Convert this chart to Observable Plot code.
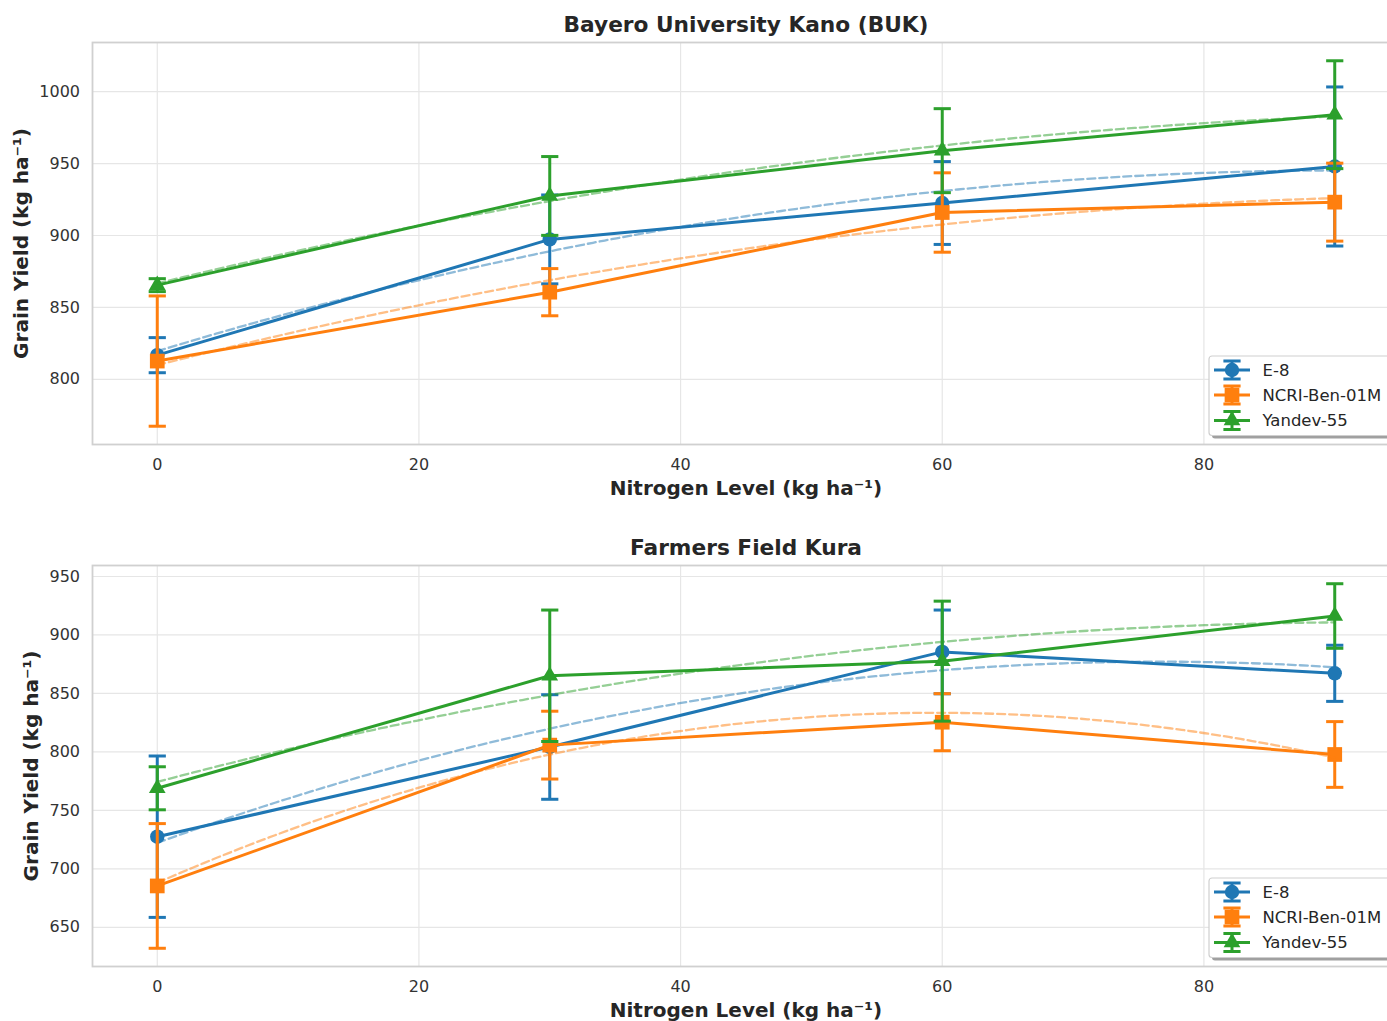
<!DOCTYPE html>
<html><head><meta charset="utf-8">
<script src="https://cdn.jsdelivr.net/npm/d3@7"></script>
<script src="https://cdn.jsdelivr.net/npm/@observablehq/plot@0.6"></script>
<style>
html,body{margin:0;padding:0;background:#fff;overflow:hidden}
#wrap{position:relative;width:1387px;height:1021px;overflow:hidden;font-family:"DejaVu Sans",sans-serif;background:#fff}
.panel{position:absolute;left:0;width:1400px}
.panel svg{max-width:none !important}
.legend{position:absolute}
</style></head><body><div id="wrap"></div>
<script>
// ---------- data ----------
const nitrogen = [0, 30, 60, 90];
const varieties = ["E-8", "NCRI-Ben-01M", "Yandev-55"];
const colors = ["#1f77b4", "#ff7f0e", "#2ca02c"];
const symbols = ["circle", "square", "triangle"];
const xTicks = [0, 20, 40, 60, 80];

const titleBUK = "Bayero University Kano (BUK)";
const bukE8 = [816.8, 897.3, 922.6, 948.0];
const bukE8Err = [12.2, 30.9, 28.8, 55.3];
const bukNCRI = [812.7, 860.6, 916.0, 923.2];
const bukNCRIErr = [45.3, 16.4, 27.6, 27.1];
const bukYandev = [865.5, 927.5, 959.0, 984.0];
const bukYandevErr = [4.5, 27.4, 29.2, 37.5];
const bukYTicks = [800, 850, 900, 950, 1000];

const titleKura = "Farmers Field Kura";
const kuraE8 = [727.5, 804.2, 885.5, 867.2];
const kuraE8Err = [69.0, 44.7, 35.8, 24.0];
const kuraNCRI = [685.4, 805.8, 825.4, 797.8];
const kuraNCRIErr = [53.3, 29.0, 24.4, 28.1];
const kuraYandev = [768.9, 865.1, 877.6, 916.2];
const kuraYandevErr = [18.4, 56.2, 51.3, 27.6];
const kuraYTicks = [650, 700, 750, 800, 850, 900, 950];

const xLabel = "Nitrogen Level (kg ha\u207B\u00B9)";
const yLabel = "Grain Yield (kg ha\u207B\u00B9)";
const xDomain = [-4.95, 94.95];

// ---------- helpers ----------
function polyfit2(xs, ys) {
  // least squares quadratic fit: y = a + b x + c x^2
  const S = (f) => d3.sum(xs.map((x, i) => f(x, ys[i])));
  const A = [
    [xs.length, S(x => x), S(x => x * x), S((x, y) => y)],
    [S(x => x), S(x => x * x), S(x => x ** 3), S((x, y) => x * y)],
    [S(x => x * x), S(x => x ** 3), S(x => x ** 4), S((x, y) => x * x * y)]
  ];
  for (let i = 0; i < 3; i++) {
    for (let k = i + 1; k < 3; k++) {
      const f = A[k][i] / A[i][i];
      for (let j = i; j < 4; j++) A[k][j] -= f * A[i][j];
    }
  }
  const c = [0, 0, 0];
  for (let i = 2; i >= 0; i--) {
    let s = A[i][3];
    for (let j = i + 1; j < 3; j++) s -= A[i][j] * c[j];
    c[i] = s / A[i][i];
  }
  return x => c[0] + c[1] * x + c[2] * x * x;
}

const markerR = {circle: 7.2, square: 8.3, triangle: 6.2};
const capHalf = 8.6;
const lw = 3;
const capSymbol = {draw(ctx) { ctx.moveTo(-capHalf, 0); ctx.lineTo(capHalf, 0); }};

function seriesMarks(means, errs, k) {
  const rows = nitrogen.map((n, i) => ({n, y: means[i], lo: means[i] - errs[i], hi: means[i] + errs[i]}));
  const f = polyfit2(nitrogen, means);
  const xs = d3.range(0, 90.0001, 0.9);
  const fit = xs.map(x => ({n: x, y: f(x)}));
  const color = colors[k];
  return [
    Plot.ruleX(rows, {x: "n", y1: "lo", y2: "hi", stroke: color, strokeWidth: lw}),
    Plot.dot(rows, {x: "n", y: "lo", symbol: capSymbol, stroke: color, strokeWidth: lw, fill: "none"}),
    Plot.dot(rows, {x: "n", y: "hi", symbol: capSymbol, stroke: color, strokeWidth: lw, fill: "none"}),
    Plot.line(rows, {x: "n", y: "y", stroke: color, strokeWidth: lw}),
    Plot.dot(rows, {x: "n", y: "y", symbol: symbols[k], r: markerR[symbols[k]], fill: color, stroke: "none"}),
    Plot.line(fit, {x: "n", y: "y", stroke: color, strokeWidth: 2.3, strokeOpacity: 0.5, strokeDasharray: "8,4"})
  ];
}

function makePanel({title, series, yTicks, top, height, marginTop, marginBottom, yLabelDx}) {
  const lows = series.flatMap(([m, e]) => m.map((v, i) => v - e[i]));
  const highs = series.flatMap(([m, e]) => m.map((v, i) => v + e[i]));
  const lo = d3.min(lows), hi = d3.max(highs), pad = (hi - lo) * 0.05;
  const chart = Plot.plot({
    width: 1400, height, marginLeft: 92, marginRight: 1, marginTop, marginBottom,
    x: {domain: xDomain},
    y: {domain: [lo - pad, hi + pad]},
    style: {fontFamily: "DejaVu Sans", fontSize: "16px", color: "#262626", background: "white", overflow: "visible", maxWidth: "none"},
    marks: [
      Plot.gridX(xTicks, {stroke: "#e6e6e6", strokeOpacity: 1, strokeWidth: 1.2}),
      Plot.gridY(yTicks, {stroke: "#e6e6e6", strokeOpacity: 1, strokeWidth: 1.2}),
      Plot.axisX(xTicks, {tickSize: 0, tickPadding: 14, tickFormat: d => String(d), label: null, fill: "#333", fontSize: 16}),
      Plot.axisY(yTicks, {tickSize: 0, tickPadding: 12.5, tickFormat: d => String(d), label: null, fill: "#333", fontSize: 16}),
      ...series.flatMap(([m, e], k) => seriesMarks(m, e, k)),
      Plot.frame({stroke: "#d0d0d0", strokeWidth: 1.8}),
      Plot.text([title], {text: d => d, frameAnchor: "top", dy: -17, textAnchor: "middle", lineAnchor: "middle", fontWeight: "bold", fontSize: 21.7, fill: "#262626"}),
      Plot.text([xLabel], {text: d => d, frameAnchor: "bottom", dy: 44, textAnchor: "middle", lineAnchor: "middle", fontWeight: "bold", fontSize: 20, fill: "#262626"}),
      Plot.text([yLabel], {text: d => d, frameAnchor: "left", dx: -yLabelDx, rotate: -90, textAnchor: "middle", lineAnchor: "middle", fontWeight: "bold", fontSize: 20, fill: "#262626"})
    ]
  });
  const div = document.createElement("div");
  div.className = "panel";
  div.style.top = top + "px";
  div.appendChild(chart);
  div.appendChild(makeLegend());
  document.getElementById("wrap").appendChild(div);
}

function makeLegend() {
  const ox = 1200, oy = 348;
  const svg = d3.create("svg").attr("class", "legend").attr("width", 200).attr("height", 100)
    .style("left", ox + "px").style("top", oy + "px");
  svg.append("rect").attr("x", 12).attr("y", 11).attr("width", 220).attr("height", 79.5).attr("rx", 3).attr("fill", "#a0a0a0");
  svg.append("rect").attr("x", 9).attr("y", 8).attr("width", 220).attr("height", 79.5).attr("rx", 3)
    .attr("fill", "#fff").attr("stroke", "#cfcfcf").attr("stroke-width", 1.2);
  const rowsY = [22, 47, 72.5];
  const symMap = {circle: d3.symbolCircle, square: d3.symbolSquare, triangle: d3.symbolTriangle};
  varieties.forEach((v, k) => {
    const g = svg.append("g").attr("transform", `translate(0,${rowsY[k]})`);
    const c = colors[k];
    g.append("line").attr("x1", 14).attr("x2", 50).attr("y1", 0).attr("y2", 0).attr("stroke", c).attr("stroke-width", lw);
    g.append("line").attr("x1", 32).attr("x2", 32).attr("y1", -9).attr("y2", 9).attr("stroke", c).attr("stroke-width", lw);
    g.append("line").attr("x1", 32 - capHalf).attr("x2", 32 + capHalf).attr("y1", -9).attr("y2", -9).attr("stroke", c).attr("stroke-width", lw);
    g.append("line").attr("x1", 32 - capHalf).attr("x2", 32 + capHalf).attr("y1", 9).attr("y2", 9).attr("stroke", c).attr("stroke-width", lw);
    const r = markerR[symbols[k]];
    g.append("path").attr("transform", "translate(32,0)").attr("d", d3.symbol(symMap[symbols[k]], r * r * Math.PI)()).attr("fill", c);
    g.append("text").attr("x", 62.5).attr("y", 0).attr("dy", "0.35em").attr("font-size", 16.5)
      .attr("font-family", "DejaVu Sans").attr("fill", "#262626").text(v);
  });
  return svg.node();
}

makePanel({
  title: titleBUK,
  series: [[bukE8, bukE8Err], [bukNCRI, bukNCRIErr], [bukYandev, bukYandevErr]],
  yTicks: bukYTicks, top: 0, height: 505, marginTop: 42, marginBottom: 61, yLabelDx: 71
});
makePanel({
  title: titleKura,
  series: [[kuraE8, kuraE8Err], [kuraNCRI, kuraNCRIErr], [kuraYandev, kuraYandevErr]],
  yTicks: kuraYTicks, top: 522, height: 499, marginTop: 43, marginBottom: 55, yLabelDx: 61
});
</script></body></html>
